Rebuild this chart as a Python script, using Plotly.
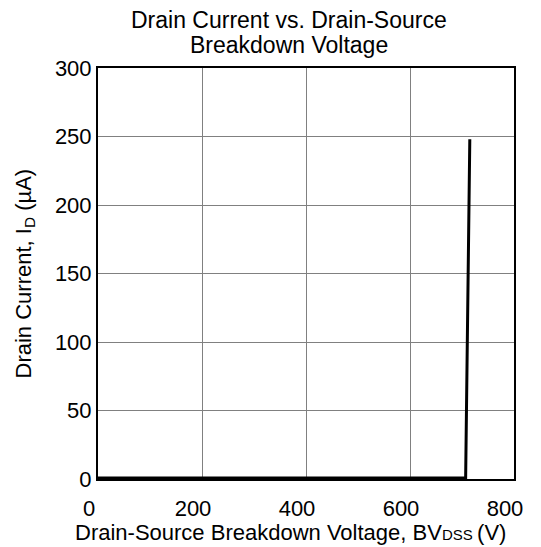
import plotly.graph_objects as go

# Data
bv_volts = [0, 707, 715]
drain_current_uA = [0.8, 0.8, 248]

x_ticks = [0, 200, 400, 600, 800]
y_ticks = [0, 50, 100, 150, 200, 250, 300]

FONT = "Arial, Liberation Sans, sans-serif"
FS = 22

fig = go.Figure()
fig.add_trace(go.Scatter(
    x=bv_volts, y=drain_current_uA, mode="lines",
    line=dict(color="black", width=3), showlegend=False,
    hoverinfo="skip"))

fig.update_layout(
    width=541, height=547,
    margin=dict(l=90, r=35, t=60, b=76, autoexpand=False),
    paper_bgcolor="white", plot_bgcolor="white",
    font=dict(family=FONT, color="black", size=FS),
    annotations=[
        dict(text="Drain Current vs. Drain-Source",
             xref="paper", yref="paper", x=0.459, xanchor="center",
             y=1.0, yanchor="middle", yshift=48, showarrow=False,
             font=dict(size=23, family=FONT, color="black")),
        dict(text="Breakdown Voltage",
             xref="paper", yref="paper", x=0.459, xanchor="center",
             y=1.0, yanchor="middle", yshift=23, showarrow=False,
             font=dict(size=23, family=FONT, color="black")),
        dict(text="Drain-Source Breakdown Voltage, BV"
                  "<span style='font-size:15px'>DSS</span>\u2009(V)",
             xref="paper", yref="paper", x=0.462, xanchor="center",
             y=0.0, yanchor="middle", yshift=-53, showarrow=False,
             font=dict(size=FS, family=FONT, color="black")),
        dict(text="Drain Current, I<sub>D</sub> (µA)", textangle=-90,
             xref="paper", yref="paper", x=0.0, xanchor="center", xshift=-74,
             y=0.5, yanchor="middle", showarrow=False,
             font=dict(size=FS, family=FONT, color="black")),
    ],
)

fig.update_xaxes(
    range=[0, 800], tickvals=x_ticks, ticktext=[str(v) for v in x_ticks],
    showgrid=True, gridcolor="#808080", gridwidth=1,
    showline=True, linecolor="black", linewidth=2, mirror=True,
    ticks="", zeroline=False, tickfont=dict(size=FS, family=FONT),
    ticklabelshift=-9, ticklabelstandoff=9, automargin=False,
)
fig.update_yaxes(
    range=[0, 300], tickvals=y_ticks, ticktext=[str(v) for v in y_ticks],
    showgrid=True, gridcolor="#808080", gridwidth=1,
    showline=True, linecolor="black", linewidth=2, mirror=True,
    ticks="", zeroline=False, tickfont=dict(size=FS, family=FONT),
    automargin=False,
)

fig.write_html("out.html")
